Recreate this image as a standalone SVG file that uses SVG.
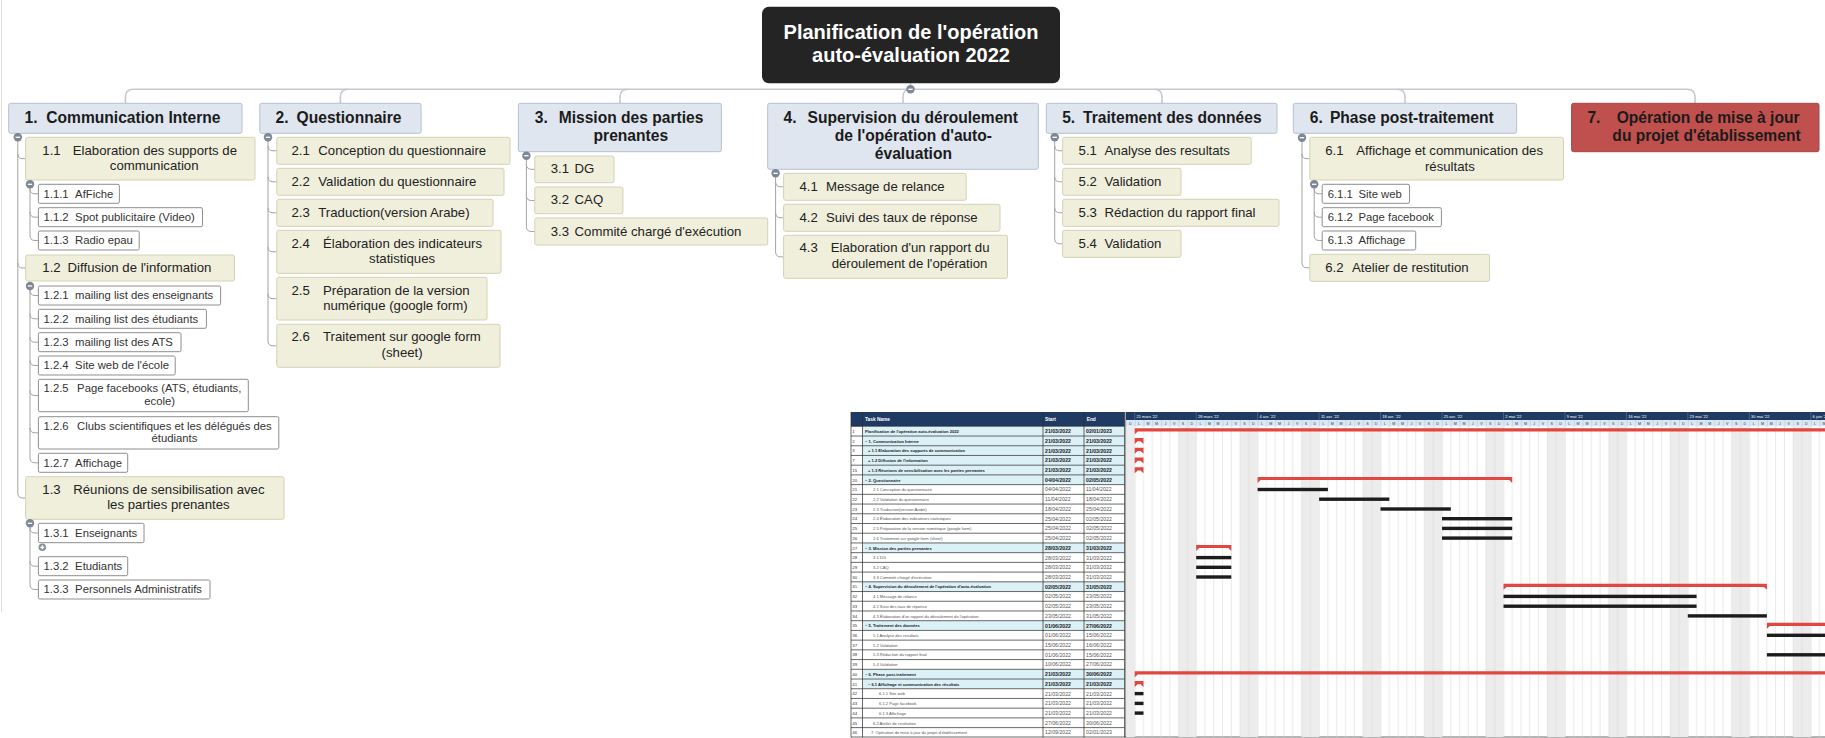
<svg xmlns="http://www.w3.org/2000/svg" xmlns:xlink="http://www.w3.org/1999/xlink" width="1825" height="738" viewBox="0 0 1825 738">
<style>
text{font-family:"Liberation Sans",Arial,sans-serif}
.t0{font-size:20px;font-weight:bold;fill:#fff}
.t1{font-size:15.6px;font-weight:bold;fill:#1b1b1b}
.t2{font-size:13.2px;fill:#222}
.t3{font-size:11.3px;fill:#333}
.c{text-anchor:middle}
.b1{fill:#dfe6ef;stroke:#b5c0cf;stroke-width:1}
.b2{fill:#f0efdc;stroke:#d4d2b4;stroke-width:1}
.b3{fill:#fff;stroke:#8e8e8e;stroke-width:1}
.ln{fill:none;stroke:#a3a3a3;stroke-width:1}
.top{fill:none;stroke:#c5c9cf;stroke-width:1.6}
.gs{fill:#e2463f}
.gb{fill:#1c1c1c}
.tn{font-size:4.1px;fill:#555}
.ts{font-size:4.1px;font-weight:bold;fill:#1a1a1a}
.td{font-size:5.2px;fill:#555}
.tds{font-size:5.2px;font-weight:bold;fill:#1a1a1a}
.rn{font-size:4.4px;fill:#333}
.th{font-size:4.8px;font-weight:bold;fill:#fff}
.wl{font-size:4px;fill:#fff}
.dl{font-size:3.6px;fill:#1f3b63;text-anchor:middle}
</style>
<defs>
<g id="km"><circle r="4.2" fill="#7d8795"/><path d="M-2.2,0H2.2" stroke="#fff" stroke-width="1.3"/></g>
<g id="kp"><circle r="3.8" fill="#8a929e"/><path d="M-2,0H2M0,-2V2" stroke="#fff" stroke-width="1.2"/></g>
<pattern id="wk" x="1134.7" y="0" width="61.46" height="20" patternUnits="userSpaceOnUse">
<rect x="43.9" y="0" width="17.56" height="20" fill="#ececec"/>
<path d="M0.3,0V20M8.78,0V20M17.56,0V20M26.34,0V20M35.12,0V20M43.9,0V20M52.68,0V20" stroke="#d9d9d9" stroke-width="0.6"/>
</pattern>
<pattern id="dlp" x="1134.7" y="0" width="8.78" height="20" patternUnits="userSpaceOnUse">
<path d="M0.3,0V20" stroke="#a9c0da" stroke-width="0.6"/>
</pattern>
<clipPath id="gc"><rect x="1125.9" y="411" width="699.1" height="327"/></clipPath>
</defs>
<rect width="1825" height="738" fill="#fff"/>
<line x1="1.5" y1="0" x2="1.5" y2="612" stroke="#dedede" stroke-width="1"/>

<g id="connectors">
<path class="top" d="M125.4,103.3V97Q125.4,89.3 133.1,89.3H1687.3Q1695,89.3 1695,97V103.3"/>
<path class="top" d="M340.4,103.3V97Q340.4,89.3 348.1,89.3M620,103.3V97Q620,89.3 627.7,89.3M903,103.3V97Q903,89.3 910.7,89.3M1162,103.3V97Q1162,89.3 1154.3,89.3M1405,103.3V97Q1405,89.3 1397.3,89.3M910.5,83.3V89.3"/>
<path class="ln" d="M17.8,137.3V493Q17.8,498 22.8,498H25.7M17.8,153.7Q17.8,158.7 22.8,158.7H25.7M17.8,263Q17.8,268 22.8,268H25.7"/>
<path class="ln" d="M30,184.3V235.5Q30,240.5 35,240.5H38.4M30,188.8Q30,193.8 35,193.8H38.4M30,212.2Q30,217.2 35,217.2H38.4"/>
<path class="ln" d="M30,286V457.8Q30,462.8 35,462.8H38.4M30,290.5Q30,295.5 35,295.5H38.4M30,313.8Q30,318.8 35,318.8H38.4M30,337.2Q30,342.2 35,342.2H38.4M30,360.5Q30,365.5 35,365.5H38.4M30,390.5Q30,395.5 35,395.5H38.4M30,427.8Q30,432.8 35,432.8H38.4"/>
<path class="ln" d="M30,523.3V584.5Q30,589.5 35,589.5H38.4M30,528Q30,533 35,533H38.4M30,561.2Q30,566.2 35,566.2H38.4"/>
<path class="ln" d="M268,137.3V340.8Q268,345.8 273,345.8H276.8M268,145.8Q268,150.8 273,150.8H276.8M268,176.8Q268,181.8 273,181.8H276.8M268,207.8Q268,212.8 273,212.8H276.8M268,246.8Q268,251.8 273,251.8H276.8M268,293.7Q268,298.7 273,298.7H276.8"/>
<path class="ln" d="M526.4,155.7V226.5Q526.4,231.5 531.4,231.5H534.8M526.4,164.3Q526.4,169.3 531.4,169.3H534.8M526.4,195.5Q526.4,200.5 531.4,200.5H534.8"/>
<path class="ln" d="M775.6,173.3V251.8Q775.6,256.8 780.6,256.8H783.6M775.6,181.8Q775.6,186.8 780.6,186.8H783.6M775.6,212.8Q775.6,217.8 780.6,217.8H783.6"/>
<path class="ln" d="M1054.7,137.3V238.8Q1054.7,243.8 1059.7,243.8H1062.7M1054.7,145.8Q1054.7,150.8 1059.7,150.8H1062.7M1054.7,176.8Q1054.7,181.8 1059.7,181.8H1062.7M1054.7,207.8Q1054.7,212.8 1059.7,212.8H1062.7"/>
<path class="ln" d="M1302,137.7V262.8Q1302,267.8 1307,267.8H1309.8M1302,153.7Q1302,158.7 1307,158.7H1309.8"/>
<path class="ln" d="M1314.2,184.3V235.5Q1314.2,240.5 1319.2,240.5H1322.2M1314.2,188.8Q1314.2,193.8 1319.2,193.8H1322.2M1314.2,212.2Q1314.2,217.2 1319.2,217.2H1322.2"/>
</g>

<g id="root"><rect x="762" y="6.7" width="298" height="76.6" rx="7" fill="#242424"/><text class="t0 c" x="911" y="38.7">Planification de l'opération</text><text class="t0 c" x="911" y="62">auto-évaluation 2022</text></g>

<g id="n1"><rect class="b1" x="8.7" y="103.3" width="233.3" height="30" rx="2"/><text class="t1" y="123.2"><tspan x="24.5">1.</tspan><tspan x="46.3">Communication Interne</tspan></text></g>
<g id="n2"><rect class="b1" x="259.8" y="103.3" width="161.3" height="30" rx="2"/><text class="t1" y="123.2"><tspan x="275.6">2.</tspan><tspan x="296.6">Questionnaire</tspan></text></g>
<g id="n3"><rect class="b1" x="518.4" y="103.3" width="203" height="48.4" rx="2"/><text class="t1" y="123.2"><tspan x="534.8">3.</tspan><tspan x="558.7">Mission des parties</tspan></text><text class="t1 c" x="630.8" y="141.3">prenantes</text></g>
<g id="n4"><rect class="b1" x="767.7" y="103.3" width="270.6" height="66" rx="2"/><text class="t1" y="123.2"><tspan x="783.6">4.</tspan><tspan x="807.5">Supervision du déroulement</tspan></text><text class="t1 c" x="913.4" y="141.3">de l'opération d'auto-</text><text class="t1 c" x="913.4" y="159.3">évaluation</text></g>
<g id="n5"><rect class="b1" x="1046.3" y="103.3" width="230.7" height="30" rx="2"/><text class="t1" y="123.2"><tspan x="1062.2">5.</tspan><tspan x="1083.1">Traitement des données</tspan></text></g>
<g id="n6"><rect class="b1" x="1293.3" y="103.3" width="223.3" height="30" rx="2"/><text class="t1" y="123.2"><tspan x="1309.8">6.</tspan><tspan x="1329.9">Phase post-traitement</tspan></text></g>
<g id="n7"><rect x="1571.6" y="103.3" width="247.4" height="48.4" rx="2" fill="#c0504d" stroke="#a84542"/><text class="t1" y="123.2"><tspan x="1587.4">7.</tspan><tspan x="1616.7">Opération de mise à jour</tspan></text><text class="t1 c" x="1706.5" y="141.3">du projet d'établissement</text></g>

<g id="n1_1"><rect class="b2" x="25.7" y="137.3" width="229.3" height="42.7" rx="2"/><text class="t2" y="155.4"><tspan x="42.3">1.1</tspan><tspan x="72.8">Elaboration des supports de</tspan></text><text class="t2 c" x="154.2" y="170.4">communication</text></g>
<g id="n1_2"><rect class="b2" x="25.7" y="255" width="208.8" height="26" rx="2"/><text class="t2" y="271.6"><tspan x="42.3">1.2</tspan><tspan x="67.6">Diffusion de l'information</tspan></text></g>
<g id="n1_3"><rect class="b2" x="25.7" y="476.7" width="258.3" height="42.6" rx="2"/><text class="t2" y="494"><tspan x="42.3">1.3</tspan><tspan x="73.2">Réunions de sensibilisation avec</tspan></text><text class="t2 c" x="168.4" y="509">les parties prenantes</text></g>
<g id="n2_1"><rect class="b2" x="276.8" y="137.3" width="233.2" height="27" rx="2"/><text class="t2" y="154.9"><tspan x="291.4">2.1</tspan><tspan x="318.3">Conception du questionnaire</tspan></text></g>
<g id="n2_2"><rect class="b2" x="276.8" y="168.3" width="227.2" height="27" rx="2"/><text class="t2" y="185.9"><tspan x="291.4">2.2</tspan><tspan x="318.3">Validation du questionnaire</tspan></text></g>
<g id="n2_3"><rect class="b2" x="276.8" y="199.3" width="216.2" height="27" rx="2"/><text class="t2" y="216.9"><tspan x="291.4">2.3</tspan><tspan x="318.3">Traduction(version Arabe)</tspan></text></g>
<g id="n2_4"><rect class="b2" x="276.8" y="230.3" width="224.2" height="43" rx="2"/><text class="t2" y="248"><tspan x="291.4">2.4</tspan><tspan x="323">Élaboration des indicateurs</tspan></text><text class="t2 c" x="402.1" y="263">statistiques</text></g>
<g id="n2_5"><rect class="b2" x="276.8" y="277.3" width="210.2" height="42.7" rx="2"/><text class="t2" y="294.7"><tspan x="291.4">2.5</tspan><tspan x="323">Préparation de la version</tspan></text><text class="t2 c" x="395.4" y="310.4">numérique (google form)</text></g>
<g id="n2_6"><rect class="b2" x="276.8" y="324.3" width="223.2" height="43" rx="2"/><text class="t2" y="341.4"><tspan x="291.4">2.6</tspan><tspan x="323">Traitement sur google form</tspan></text><text class="t2 c" x="402.1" y="357">(sheet)</text></g>
<g id="n3_1"><rect class="b2" x="534.8" y="156" width="79.2" height="26.7" rx="2"/><text class="t2" y="173.4"><tspan x="550.7">3.1</tspan><tspan x="574.6">DG</tspan></text></g>
<g id="n3_2"><rect class="b2" x="534.8" y="187" width="88.1" height="26.7" rx="2"/><text class="t2" y="204.4"><tspan x="550.7">3.2</tspan><tspan x="574.6">CAQ</tspan></text></g>
<g id="n3_3"><rect class="b2" x="534.8" y="218" width="232.9" height="27" rx="2"/><text class="t2" y="235.6"><tspan x="550.7">3.3</tspan><tspan x="574.6">Commité chargé d'exécution</tspan></text></g>
<g id="n4_1"><rect class="b2" x="783.6" y="173.3" width="182.6" height="27" rx="2"/><text class="t2" y="190.9"><tspan x="799.5">4.1</tspan><tspan x="825.9">Message de relance</tspan></text></g>
<g id="n4_2"><rect class="b2" x="783.6" y="204.3" width="216.4" height="27" rx="2"/><text class="t2" y="221.9"><tspan x="799.5">4.2</tspan><tspan x="825.9">Suivi des taux de réponse</tspan></text></g>
<g id="n4_3"><rect class="b2" x="783.6" y="235.3" width="223.9" height="43" rx="2"/><text class="t2" y="252.4"><tspan x="799.5">4.3</tspan><tspan x="830.8">Elaboration d'un rapport du</tspan></text><text class="t2 c" x="909.5" y="268">déroulement de l'opération</text></g>
<g id="n5_1"><rect class="b2" x="1062.7" y="137.3" width="188.5" height="27" rx="2"/><text class="t2" y="154.9"><tspan x="1078.6">5.1</tspan><tspan x="1104.5">Analyse des resultats</tspan></text></g>
<g id="n5_2"><rect class="b2" x="1062.7" y="168.3" width="118.3" height="27" rx="2"/><text class="t2" y="185.9"><tspan x="1078.6">5.2</tspan><tspan x="1104.5">Validation</tspan></text></g>
<g id="n5_3"><rect class="b2" x="1062.7" y="199.3" width="216.3" height="27" rx="2"/><text class="t2" y="216.9"><tspan x="1078.6">5.3</tspan><tspan x="1104.5">Rédaction du rapport final</tspan></text></g>
<g id="n5_4"><rect class="b2" x="1062.7" y="230.3" width="118.3" height="27" rx="2"/><text class="t2" y="247.9"><tspan x="1078.6">5.4</tspan><tspan x="1104.5">Validation</tspan></text></g>
<g id="n6_1"><rect class="b2" x="1309.8" y="137.3" width="253.7" height="42.7" rx="2"/><text class="t2" y="155.4"><tspan x="1325.2">6.1</tspan><tspan x="1356.3">Affichage et communication des</tspan></text><text class="t2 c" x="1449.9" y="170.7">résultats</text></g>
<g id="n6_2"><rect class="b2" x="1309.8" y="254.3" width="179.7" height="27" rx="2"/><text class="t2" y="271.6"><tspan x="1325.2">6.2</tspan><tspan x="1352">Atelier de restitution</tspan></text></g>

<g id="n1_1_1"><rect class="b3" x="38.4" y="184.3" width="81" height="19" rx="1.5"/><text class="t3" y="197.5"><tspan x="43.5">1.1.1</tspan><tspan x="75.1">AfFiche</tspan></text></g>
<g id="n1_1_2"><rect class="b3" x="38.4" y="207.7" width="164.1" height="19" rx="1.5"/><text class="t3" y="220.9"><tspan x="43.5">1.1.2</tspan><tspan x="75.1">Spot publicitaire (Video)</tspan></text></g>
<g id="n1_1_3"><rect class="b3" x="38.4" y="231" width="100.8" height="19" rx="1.5"/><text class="t3" y="244.2"><tspan x="43.5">1.1.3</tspan><tspan x="75.1">Radio epau</tspan></text></g>
<g id="n1_2_1"><rect class="b3" x="38.4" y="286" width="182.2" height="19" rx="1.5"/><text class="t3" y="299.2"><tspan x="43.5">1.2.1</tspan><tspan x="75.1">mailing list des enseignants</tspan></text></g>
<g id="n1_2_2"><rect class="b3" x="38.4" y="309.3" width="168" height="19" rx="1.5"/><text class="t3" y="322.5"><tspan x="43.5">1.2.2</tspan><tspan x="75.1">mailing list des étudiants</tspan></text></g>
<g id="n1_2_3"><rect class="b3" x="38.4" y="332.7" width="142.6" height="19" rx="1.5"/><text class="t3" y="345.9"><tspan x="43.5">1.2.3</tspan><tspan x="75.1">mailing list des ATS</tspan></text></g>
<g id="n1_2_4"><rect class="b3" x="38.4" y="356" width="136.8" height="19" rx="1.5"/><text class="t3" y="369.2"><tspan x="43.5">1.2.4</tspan><tspan x="75.1">Site web de l'école</tspan></text></g>
<g id="n1_2_5"><rect class="b3" x="38.4" y="379.3" width="209.9" height="32.4" rx="1.5"/><text class="t3" y="392.3"><tspan x="43.5">1.2.5</tspan><tspan x="77.1">Page facebooks (ATS, étudiants,</tspan></text><text class="t3 c" x="159.7" y="405">ecole)</text></g>
<g id="n1_2_6"><rect class="b3" x="38.4" y="416.7" width="240.4" height="32.3" rx="1.5"/><text class="t3" y="429.7"><tspan x="43.5">1.2.6</tspan><tspan x="77.1">Clubs scientifiques et les délégués des</tspan></text><text class="t3 c" x="174.4" y="441.7">étudiants</text></g>
<g id="n1_2_7"><rect class="b3" x="38.4" y="453.3" width="89.3" height="19" rx="1.5"/><text class="t3" y="466.5"><tspan x="43.5">1.2.7</tspan><tspan x="75.1">Affichage</tspan></text></g>
<g id="n1_3_1"><rect class="b3" x="38.4" y="523.3" width="105.6" height="19.4" rx="1.5"/><text class="t3" y="536.6"><tspan x="43.5">1.3.1</tspan><tspan x="75.1">Enseignants</tspan></text></g>
<g id="n1_3_2"><rect class="b3" x="38.4" y="556.7" width="89.3" height="19" rx="1.5"/><text class="t3" y="569.9"><tspan x="43.5">1.3.2</tspan><tspan x="75.1">Etudiants</tspan></text></g>
<g id="n1_3_3"><rect class="b3" x="38.4" y="580" width="171.6" height="19" rx="1.5"/><text class="t3" y="593.2"><tspan x="43.5">1.3.3</tspan><tspan x="75.1">Personnels Administratifs</tspan></text></g>
<g id="n6_1_1"><rect class="b3" x="1322.2" y="184.3" width="87.3" height="19" rx="1.5"/><text class="t3" y="197.5"><tspan x="1327.7">6.1.1</tspan><tspan x="1358.5">Site web</tspan></text></g>
<g id="n6_1_2"><rect class="b3" x="1322.2" y="207.7" width="119.2" height="19" rx="1.5"/><text class="t3" y="220.9"><tspan x="1327.7">6.1.2</tspan><tspan x="1358.5">Page facebook</tspan></text></g>
<g id="n6_1_3"><rect class="b3" x="1322.2" y="231" width="93.5" height="19" rx="1.5"/><text class="t3" y="244.2"><tspan x="1327.7">6.1.3</tspan><tspan x="1358.5">Affichage</tspan></text></g>

<g id="knobs">
<use href="#km" x="910.5" y="89.3"/>
<use href="#km" x="17.8" y="137.3"/>
<use href="#km" x="268" y="137.3"/>
<use href="#km" x="526.4" y="155.7"/>
<use href="#km" x="775.6" y="173.3"/>
<use href="#km" x="1054.7" y="137.3"/>
<use href="#km" x="1302" y="137.7"/>
<use href="#km" x="30" y="184.3"/>
<use href="#km" x="30" y="286"/>
<use href="#km" x="30" y="523.3"/>
<use href="#km" x="1314.2" y="184.3"/>
<use href="#kp" x="42.3" y="547.3"/>
</g>

<g id="gantt">
<rect x="851" y="412" width="273.5" height="14.3" fill="#1f3b63"/>
<g fill="#dcf0f7">
<rect x="862.5" y="426.3" width="262" height="9.72"/><rect x="862.5" y="436.02" width="262" height="9.72"/><rect x="862.5" y="445.74" width="262" height="9.72"/><rect x="862.5" y="455.46" width="262" height="9.72"/><rect x="862.5" y="465.18" width="262" height="9.72"/><rect x="862.5" y="474.9" width="262" height="9.72"/><rect x="862.5" y="542.94" width="262" height="9.72"/><rect x="862.5" y="581.82" width="262" height="9.72"/><rect x="862.5" y="620.7" width="262" height="9.72"/><rect x="862.5" y="669.3" width="262" height="9.72"/><rect x="862.5" y="679.02" width="262" height="9.72"/>
</g>
<path fill="none" stroke="#2a2a2a" stroke-width="0.7" d="M851,426.3H1124.5M851,436.02H1124.5M851,445.74H1124.5M851,455.46H1124.5M851,465.18H1124.5M851,474.9H1124.5M851,484.62H1124.5M851,494.34H1124.5M851,504.06H1124.5M851,513.78H1124.5M851,523.5H1124.5M851,533.22H1124.5M851,542.94H1124.5M851,552.66H1124.5M851,562.38H1124.5M851,572.1H1124.5M851,581.82H1124.5M851,591.54H1124.5M851,601.26H1124.5M851,610.98H1124.5M851,620.7H1124.5M851,630.42H1124.5M851,640.14H1124.5M851,649.86H1124.5M851,659.58H1124.5M851,669.3H1124.5M851,679.02H1124.5M851,688.74H1124.5M851,698.46H1124.5M851,708.18H1124.5M851,717.9H1124.5M851,727.62H1124.5M851,737H1825M851,412V737.3M862.5,412V737.3M1043,412V737.3M1084,412V737.3M1124.5,412V737.3M1125.9,412V737.3"/>
<text class="th" x="865" y="421.2">Task Name</text><text class="th" x="1045" y="421.2">Start</text><text class="th" x="1086.7" y="421.2">End</text>
<g class="rn">
<text x="852.3" y="432.9">1</text><text x="852.3" y="442.62">2</text><text x="852.3" y="452.34">3</text><text x="852.3" y="462.06">7</text><text x="852.3" y="471.78">15</text><text x="852.3" y="481.5">20</text><text x="852.3" y="491.22">21</text><text x="852.3" y="500.94">22</text><text x="852.3" y="510.66">23</text><text x="852.3" y="520.38">24</text><text x="852.3" y="530.1">25</text><text x="852.3" y="539.82">26</text><text x="852.3" y="549.54">27</text><text x="852.3" y="559.26">28</text><text x="852.3" y="568.98">29</text><text x="852.3" y="578.7">30</text><text x="852.3" y="588.42">31</text><text x="852.3" y="598.14">32</text><text x="852.3" y="607.86">33</text><text x="852.3" y="617.58">34</text><text x="852.3" y="627.3">35</text><text x="852.3" y="637.02">36</text><text x="852.3" y="646.74">37</text><text x="852.3" y="656.46">38</text><text x="852.3" y="666.18">39</text><text x="852.3" y="675.9">40</text><text x="852.3" y="685.62">41</text><text x="852.3" y="695.34">42</text><text x="852.3" y="705.06">43</text><text x="852.3" y="714.78">44</text><text x="852.3" y="724.5">45</text><text x="852.3" y="734.22">46</text>
</g>
<text class="ts" x="865" y="432.9">Planification de l'opération auto-évaluation 2022</text>
<text class="ts" x="865" y="442.62">– 1. Communication Interne</text>
<text class="ts" x="868" y="452.34">+ 1.1 Elaboration des supports de communication</text>
<text class="ts" x="868" y="462.06">+ 1.2 Diffusion de l'information</text>
<text class="ts" x="868" y="471.78">+ 1.3 Réunions de sensibilisation avec les parties prenantes</text>
<text class="ts" x="865" y="481.5">– 2. Questionnaire</text>
<text class="tn" x="873" y="491.22">2.1 Conception du questionnaire</text>
<text class="tn" x="873" y="500.94">2.2 Validation du questionnaire</text>
<text class="tn" x="873" y="510.66">2.3 Traduction(version Arabe)</text>
<text class="tn" x="873" y="520.38">2.4 Élaboration des indicateurs statistiques</text>
<text class="tn" x="873" y="530.1">2.5 Préparation de la version numérique (google form)</text>
<text class="tn" x="873" y="539.82">2.6 Traitement sur google form (sheet)</text>
<text class="ts" x="865" y="549.54">– 3. Mission des parties prenantes</text>
<text class="tn" x="873" y="559.26">3.1 DG</text>
<text class="tn" x="873" y="568.98">3.2 CAQ</text>
<text class="tn" x="873" y="578.7">3.3 Commité chargé d'exécution</text>
<text class="ts" x="865" y="588.42">– 4. Supervision du déroulement de l'opération d'auto-évaluation</text>
<text class="tn" x="873" y="598.14">4.1 Message de relance</text>
<text class="tn" x="873" y="607.86">4.2 Suivi des taux de réponse</text>
<text class="tn" x="873" y="617.58">4.3 Élaboration d'un rapport du déroulement de l'opération</text>
<text class="ts" x="865" y="627.3">– 5. Traitement des données</text>
<text class="tn" x="873" y="637.02">5.1 Analyse des resultats</text>
<text class="tn" x="873" y="646.74">5.2 Validation</text>
<text class="tn" x="873" y="656.46">5.3 Rédaction du rapport final</text>
<text class="tn" x="873" y="666.18">5.4 Validation</text>
<text class="ts" x="865" y="675.9">– 6. Phase post-traitement</text>
<text class="ts" x="868" y="685.62">– 6.1 Affichage et communication des résultats</text>
<text class="tn" x="879" y="695.34">6.1.1 Site web</text>
<text class="tn" x="879" y="705.06">6.1.2 Page facebook</text>
<text class="tn" x="879" y="714.78">6.1.3 Affichage</text>
<text class="tn" x="873" y="724.5">6.2 Atelier de restitution</text>
<text class="tn" x="871" y="734.22">7. Opération de mise à jour du projet d'établissement</text>
<g class="tds">
<text x="1045" y="433.1">21/03/2022</text><text x="1086" y="433.1">02/01/2023</text>
<text x="1045" y="442.8">21/03/2022</text><text x="1086" y="442.8">21/03/2022</text>
<text x="1045" y="452.5">21/03/2022</text><text x="1086" y="452.5">21/03/2022</text>
<text x="1045" y="462.3">21/03/2022</text><text x="1086" y="462.3">21/03/2022</text>
<text x="1045" y="472">21/03/2022</text><text x="1086" y="472">21/03/2022</text>
<text x="1045" y="481.7">04/04/2022</text><text x="1086" y="481.7">02/05/2022</text>
<text x="1045" y="549.7">28/03/2022</text><text x="1086" y="549.7">31/03/2022</text>
<text x="1045" y="588.6">02/05/2022</text><text x="1086" y="588.6">31/05/2022</text>
<text x="1045" y="627.5">01/06/2022</text><text x="1086" y="627.5">27/06/2022</text>
<text x="1045" y="676.1">21/03/2022</text><text x="1086" y="676.1">30/06/2022</text>
<text x="1045" y="685.8">21/03/2022</text><text x="1086" y="685.8">21/03/2022</text>
</g>
<g class="td">
<text x="1045" y="491.4">04/04/2022</text><text x="1086" y="491.4">11/04/2022</text>
<text x="1045" y="501.1">11/04/2022</text><text x="1086" y="501.1">18/04/2022</text>
<text x="1045" y="510.9">18/04/2022</text><text x="1086" y="510.9">25/04/2022</text>
<text x="1045" y="520.6">25/04/2022</text><text x="1086" y="520.6">02/05/2022</text>
<text x="1045" y="530.3">25/04/2022</text><text x="1086" y="530.3">02/05/2022</text>
<text x="1045" y="540">25/04/2022</text><text x="1086" y="540">02/05/2022</text>
<text x="1045" y="559.5">28/03/2022</text><text x="1086" y="559.5">31/03/2022</text>
<text x="1045" y="569.2">28/03/2022</text><text x="1086" y="569.2">31/03/2022</text>
<text x="1045" y="578.9">28/03/2022</text><text x="1086" y="578.9">31/03/2022</text>
<text x="1045" y="598.3">02/05/2022</text><text x="1086" y="598.3">23/05/2022</text>
<text x="1045" y="608.1">02/05/2022</text><text x="1086" y="608.1">23/05/2022</text>
<text x="1045" y="617.8">23/05/2022</text><text x="1086" y="617.8">31/05/2022</text>
<text x="1045" y="637.2">01/06/2022</text><text x="1086" y="637.2">15/06/2022</text>
<text x="1045" y="646.9">15/06/2022</text><text x="1086" y="646.9">16/06/2022</text>
<text x="1045" y="656.7">01/06/2022</text><text x="1086" y="656.7">15/06/2022</text>
<text x="1045" y="666.4">10/06/2022</text><text x="1086" y="666.4">27/06/2022</text>
<text x="1045" y="695.5">21/03/2022</text><text x="1086" y="695.5">21/03/2022</text>
<text x="1045" y="705.3">21/03/2022</text><text x="1086" y="705.3">21/03/2022</text>
<text x="1045" y="715">21/03/2022</text><text x="1086" y="715">21/03/2022</text>
<text x="1045" y="724.7">27/06/2022</text><text x="1086" y="724.7">30/06/2022</text>
<text x="1045" y="734.4">12/09/2022</text><text x="1086" y="734.4">02/01/2023</text>
</g>
<g clip-path="url(#gc)">
<rect x="1125.9" y="412" width="700" height="8" fill="#1f3b63"/>
<rect x="1125.9" y="420" width="700" height="6.3" fill="#dbe8f4"/>
<rect x="1125.9" y="420" width="700" height="6.3" fill="url(#dlp)"/>
<path stroke="#5d7698" stroke-width="0.6" d="M1134.7,412V420M1196.2,412V420M1257.6,412V420M1319.1,412V420M1380.5,412V420M1442,412V420M1503.5,412V420M1564.9,412V420M1626.4,412V420M1687.8,412V420M1749.3,412V420M1810.8,412V420"/>
<g class="wl">
<text x="1136.5" y="418">21 mars '22</text><text x="1198" y="418">28 mars '22</text><text x="1259.4" y="418">4 avr. '22</text><text x="1320.9" y="418">11 avr. '22</text><text x="1382.3" y="418">18 avr. '22</text><text x="1443.8" y="418">25 avr. '22</text><text x="1505.3" y="418">2 mai '22</text><text x="1566.7" y="418">9 mai '22</text><text x="1628.2" y="418">16 mai '22</text><text x="1689.6" y="418">23 mai '22</text><text x="1751.1" y="418">30 mai '22</text><text x="1812.6" y="418">6 juin '22</text>
</g>
<text class="dl" y="424.8" x="1130.3 1139.1 1147.9 1156.6 1165.4 1174.2 1183 1191.8 1200.5 1209.3 1218.1 1226.9 1235.7 1244.4 1253.2 1262 1270.8 1279.6 1288.3 1297.1 1305.9 1314.7 1323.5 1332.2 1341 1349.8 1358.6 1367.4 1376.1 1384.9 1393.7 1402.5 1411.3 1420 1428.8 1437.6 1446.4 1455.2 1463.9 1472.7 1481.5 1490.3 1499.1 1507.8 1516.6 1525.4 1534.2 1543 1551.7 1560.5 1569.3 1578.1 1586.9 1595.6 1604.4 1613.2 1622 1630.8 1639.5 1648.3 1657.1 1665.9 1674.7 1683.4 1692.2 1701 1709.8 1718.6 1727.3 1736.1 1744.9 1753.7 1762.5 1771.2 1780 1788.8 1797.6 1806.4 1815.1 1823.9">DLMMJVSDLMMJVSDLMMJVSDLMMJVSDLMMJVSDLMMJVSDLMMJVSDLMMJVSDLMMJVSDLMMJVSDLMMJVSDLM</text>
<rect x="1125.9" y="426.3" width="700" height="310.7" fill="url(#wk)"/>
<g class="gs">
<path d="M1134.7,428.3H1830V434.3L1827,431.5H1137.7L1134.7,434.3Z"/>
<path d="M1134.7,438H1143.5V444L1140.5,441.2H1137.7L1134.7,444Z"/>
<path d="M1134.7,447.7H1143.5V453.7L1140.5,450.9H1137.7L1134.7,453.7Z"/>
<path d="M1134.7,457.5H1143.5V463.5L1140.5,460.7H1137.7L1134.7,463.5Z"/>
<path d="M1134.7,467.2H1143.5V473.2L1140.5,470.4H1137.7L1134.7,473.2Z"/>
<path d="M1257.6,476.9H1512.2V482.9L1509.2,480.1H1260.6L1257.6,482.9Z"/>
<path d="M1196.2,544.9H1231.3V550.9L1228.3,548.1H1199.2L1196.2,550.9Z"/>
<path d="M1503.5,583.8H1766.9V589.8L1763.9,587H1506.5L1503.5,589.8Z"/>
<path d="M1766.9,622.7H1830V628.7L1827,625.9H1769.9L1766.9,628.7Z"/>
<path d="M1134.7,671.3H1830V677.3L1827,674.5H1137.7L1134.7,677.3Z"/>
<path d="M1134.7,681H1143.5V687L1140.5,684.2H1137.7L1134.7,687Z"/>
</g>
<g class="gb">
<rect x="1257.6" y="487.8" width="70.3" height="3.4"/>
<rect x="1319.1" y="497.5" width="70.2" height="3.4"/>
<rect x="1380.5" y="507.3" width="70.3" height="3.4"/>
<rect x="1442" y="517" width="70.2" height="3.4"/>
<rect x="1442" y="526.7" width="70.2" height="3.4"/>
<rect x="1442" y="536.4" width="70.2" height="3.4"/>
<rect x="1196.2" y="555.9" width="35.1" height="3.4"/>
<rect x="1196.2" y="565.6" width="35.1" height="3.4"/>
<rect x="1196.2" y="575.3" width="35.1" height="3.4"/>
<rect x="1503.5" y="594.7" width="193.1" height="3.4"/>
<rect x="1503.5" y="604.5" width="193.1" height="3.4"/>
<rect x="1687.8" y="614.2" width="79.1" height="3.4"/>
<rect x="1766.9" y="633.6" width="60" height="3.4"/>
<rect x="1766.9" y="653.1" width="60" height="3.4"/>
<rect x="1134.7" y="691.9" width="8.8" height="3.4"/>
<rect x="1134.7" y="701.7" width="8.8" height="3.4"/>
<rect x="1134.7" y="711.4" width="8.8" height="3.4"/>
</g>
</g>
</g>
</svg>
